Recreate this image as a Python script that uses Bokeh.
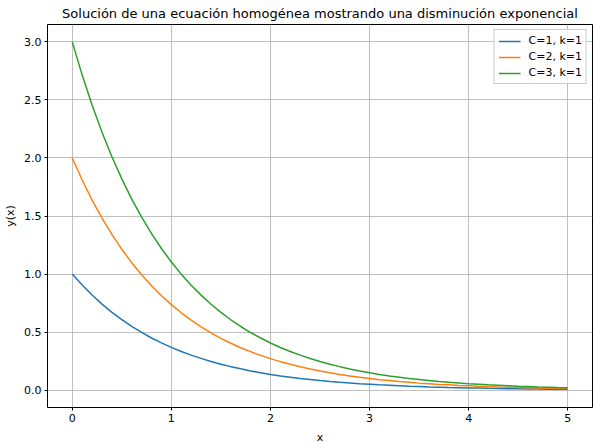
from bokeh.plotting import figure
from bokeh.models import Range1d, FixedTicker, Legend, LegendItem
from bokeh.embed import file_html
from bokeh.resources import INLINE

x_vals = [0.0, 0.1, 0.2, 0.3, 0.4, 0.5, 0.6, 0.7, 0.8, 0.9,
          1.0, 1.1, 1.2, 1.3, 1.4, 1.5, 1.6, 1.7, 1.8, 1.9,
          2.0, 2.1, 2.2, 2.3, 2.4, 2.5, 2.6, 2.7, 2.8, 2.9,
          3.0, 3.1, 3.2, 3.3, 3.4, 3.5, 3.6, 3.7, 3.8, 3.9,
          4.0, 4.1, 4.2, 4.3, 4.4, 4.5, 4.6, 4.7, 4.8, 4.9, 5.0]
y_c1 = [1.000, 0.905, 0.819, 0.741, 0.670, 0.607, 0.549, 0.497, 0.449, 0.407,
        0.368, 0.333, 0.301, 0.273, 0.247, 0.223, 0.202, 0.183, 0.165, 0.150,
        0.135, 0.122, 0.111, 0.100, 0.091, 0.082, 0.074, 0.067, 0.061, 0.055,
        0.050, 0.045, 0.041, 0.037, 0.033, 0.030, 0.027, 0.025, 0.022, 0.020,
        0.018, 0.017, 0.015, 0.014, 0.012, 0.011, 0.010, 0.009, 0.008, 0.007, 0.007]
y_c2 = [2.000, 1.810, 1.637, 1.482, 1.341, 1.213, 1.098, 0.993, 0.899, 0.813,
        0.736, 0.666, 0.602, 0.545, 0.493, 0.446, 0.404, 0.365, 0.331, 0.299,
        0.271, 0.245, 0.222, 0.201, 0.181, 0.164, 0.149, 0.134, 0.122, 0.110,
        0.100, 0.090, 0.082, 0.074, 0.067, 0.060, 0.055, 0.049, 0.045, 0.040,
        0.037, 0.033, 0.030, 0.027, 0.025, 0.022, 0.020, 0.018, 0.016, 0.015, 0.013]
y_c3 = [3.000, 2.714, 2.456, 2.222, 2.011, 1.820, 1.646, 1.490, 1.348, 1.220,
        1.104, 0.999, 0.904, 0.818, 0.740, 0.669, 0.606, 0.548, 0.496, 0.449,
        0.406, 0.367, 0.332, 0.301, 0.272, 0.246, 0.223, 0.202, 0.182, 0.165,
        0.149, 0.135, 0.122, 0.111, 0.100, 0.091, 0.082, 0.074, 0.067, 0.061,
        0.055, 0.050, 0.045, 0.041, 0.037, 0.033, 0.030, 0.027, 0.025, 0.022, 0.020]
labels = ["C=1, k=1", "C=2, k=1", "C=3, k=1"]
colors = ["#1f77b4", "#ff7f0e", "#2ca02c"]
x_ticks = [0, 1, 2, 3, 4, 5]
y_ticks = [0.0, 0.5, 1.0, 1.5, 2.0, 2.5, 3.0]

FONT = "DejaVu Sans"

p = figure(width=600, height=448, output_backend="svg", toolbar_location=None,
           x_range=Range1d(-0.25, 5.25), y_range=Range1d(-0.15, 3.15),
           min_border_left=47, min_border_right=8, min_border_top=0, min_border_bottom=41)

p.title.text = "Solución de una ecuación homogénea mostrando una disminución exponencial"
p.title.align = "center"
p.title.text_font = FONT
p.title.text_font_size = "13px"
p.title.text_font_style = "normal"
p.title.text_color = "black"
p.title.offset = 0
p.title.standoff = 7

p.outline_line_color = "black"
p.outline_line_width = 1
p.background_fill_color = "white"
p.border_fill_color = "white"

for ax in (p.xaxis[0], p.yaxis[0]):
    ax.axis_line_color = None
    ax.major_tick_in = 0
    ax.major_tick_out = 3
    ax.major_label_standoff = 3
    ax.minor_tick_line_color = None
    ax.major_label_text_font = FONT
    ax.major_label_text_font_size = "11px"
    ax.major_label_text_color = "black"
    ax.axis_label_text_font = FONT
    ax.axis_label_text_font_size = "11px"
    ax.axis_label_text_font_style = "normal"
    ax.axis_label_text_color = "black"

p.xaxis.ticker = FixedTicker(ticks=x_ticks)
p.yaxis.ticker = FixedTicker(ticks=y_ticks)
p.yaxis.major_label_overrides = {v: f"{v:.1f}" for v in y_ticks}
p.xaxis.axis_label = "x"
p.yaxis.axis_label = "y(x)"
p.xaxis.axis_label_standoff = 6
p.yaxis.axis_label_standoff = 4

p.xgrid.ticker = FixedTicker(ticks=x_ticks)
p.ygrid.ticker = FixedTicker(ticks=y_ticks)
p.grid.grid_line_color = "#b0b0b0"
p.grid.grid_line_width = 0.8

items = []
for ys, lab, col in zip([y_c1, y_c2, y_c3], labels, colors):
    r = p.line(x_vals, ys, line_color=col, line_width=1.5)
    items.append(LegendItem(label=lab, renderers=[r]))

legend = Legend(items=items, location="top_right")
legend.label_text_font = FONT
legend.label_text_font_size = "11px"
legend.label_text_color = "black"
legend.border_line_color = "#cccccc"
legend.border_line_alpha = 1
legend.background_fill_alpha = 0.8
legend.glyph_width = 22
legend.glyph_height = 12
legend.label_height = 12
legend.spacing = 3
legend.padding = 4
legend.margin = 5
legend.label_standoff = 8
p.add_layout(legend)

open("out.html", "w").write(file_html(p, INLINE))
